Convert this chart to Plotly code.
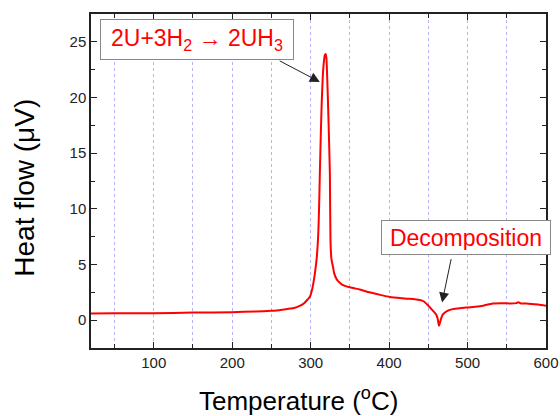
import plotly.graph_objects as go

temperature = [20, 50, 100, 150, 200, 230, 250, 260, 270, 280, 286, 292, 296, 299, 302, 305, 306.5,
               308, 309.6, 310.7, 311.7, 312.8, 313.9, 316, 318, 319, 320, 321, 322.3, 323.5,
               324.5, 325.3, 326.5, 328.7, 330, 333, 335, 340, 350, 362.7, 375, 390, 401, 420,
               439, 444, 450, 456, 460, 462, 463.6, 465, 467, 469, 475, 481, 490, 498, 510, 520,
               532, 545, 555, 562, 565, 568, 575, 590, 600]
heat_flow = [0.6, 0.62, 0.63, 0.68, 0.72, 0.78, 0.85, 0.9, 1.0, 1.12, 1.28, 1.55, 1.85, 2.1, 2.8,
             4.0, 4.8, 5.8, 7.6, 10.0, 13.1, 16.3, 19.1, 22.5, 23.8, 23.9, 23.6, 22.0, 19.1, 16.0,
             13.1, 7.1, 5.5, 4.7, 4.2, 3.7, 3.5, 3.2, 2.95, 2.75, 2.5, 2.25, 2.09, 1.95, 1.82,
             1.7, 1.3, 0.84, 0.5, 0.1, -0.5, -0.2, 0.3, 0.55, 0.85, 0.99, 1.08, 1.13, 1.2, 1.3,
             1.5, 1.52, 1.5, 1.53, 1.6, 1.5, 1.5, 1.4, 1.3]

x_ticks = [100, 200, 300, 400, 500, 600]
y_ticks = [0, 5, 10, 15, 20, 25]

FONT = "Liberation Sans, Arial, sans-serif"

fig = go.Figure()
fig.add_trace(go.Scatter(x=temperature, y=heat_flow, mode="lines",
                         line=dict(color="#ff0000", width=2, shape="spline", smoothing=0.6),
                         showlegend=False, hoverinfo="skip"))

axis_common = dict(
    showline=True, linecolor="#222222", linewidth=1.5, mirror="ticks",
    ticks="inside", ticklen=6, tickwidth=1, tickcolor="#222222",
    tickfont=dict(family=FONT, size=15, color="#222222"),
    zeroline=False, automargin=False,
)

fig.update_xaxes(
    range=[20, 600], tickvals=x_ticks, showgrid=True,
    gridcolor="#b4b4f4", griddash="dot", gridwidth=1,
    minor=dict(dtick=50, tick0=0, ticks="inside", ticklen=4, tickcolor="#222222",
               showgrid=True, gridcolor="#b4b4f4", griddash="dot", gridwidth=1),
    **axis_common,
)
fig.update_yaxes(
    range=[-2.5, 27.5], tickvals=y_ticks, showgrid=False,
    minor=dict(dtick=2.5, tick0=0, ticks="inside", ticklen=4, tickcolor="#222222"),
    **axis_common,
)

# axis titles
fig.add_annotation(x=0.455, y=-0.153, xref="paper", yref="paper",
                   xanchor="center", yanchor="middle", showarrow=False,
                   text="Temperature (<sup>o</sup>C)",
                   font=dict(family=FONT, size=26, color="#000000"))
fig.add_annotation(x=-0.145, y=0.48, xref="paper", yref="paper",
                   xanchor="center", yanchor="middle", showarrow=False, textangle=-90,
                   text="Heat flow (\u03bcV)",
                   font=dict(family=FONT, size=28, color="#000000"))

# label boxes
fig.add_annotation(x=155, y=25.17, xref="x", yref="y",
                   text="2U+3H<sub>2</sub> \u2192 2UH<sub>3</sub>", showarrow=False,
                   font=dict(family=FONT, size=23, color="#ff0000"),
                   bgcolor="#ffffff", bordercolor="#888888", borderwidth=1, borderpad=4,
                   width=184, height=31)
fig.add_annotation(x=497.5, y=7.45, xref="x", yref="y",
                   text="Decomposition", showarrow=False,
                   font=dict(family=FONT, size=23, color="#ff0000"),
                   bgcolor="#ffffff", bordercolor="#888888", borderwidth=1, borderpad=4,
                   width=160, height=25)
# arrows
fig.add_annotation(x=311.7, y=21.4, ax=258.6, ay=23.36, xref="x", yref="y",
                   axref="x", ayref="y", text="", showarrow=True,
                   arrowhead=2, arrowsize=2, arrowwidth=1, arrowcolor="#222222")
fig.add_annotation(x=467.5, y=1.58, ax=479.5, ay=5.62, xref="x", yref="y",
                   axref="x", ayref="y", text="", showarrow=True,
                   arrowhead=2, arrowsize=2, arrowwidth=1, arrowcolor="#222222")

fig.update_layout(
    width=560, height=416,
    margin=dict(l=91, r=14, t=14, b=68),
    paper_bgcolor="#ffffff", plot_bgcolor="#ffffff",
    font=dict(family=FONT),
)

fig.write_html("out.html", config={"displayModeBar": False},
               post_script="document.body.style.margin='0';document.body.style.overflow='hidden';")
